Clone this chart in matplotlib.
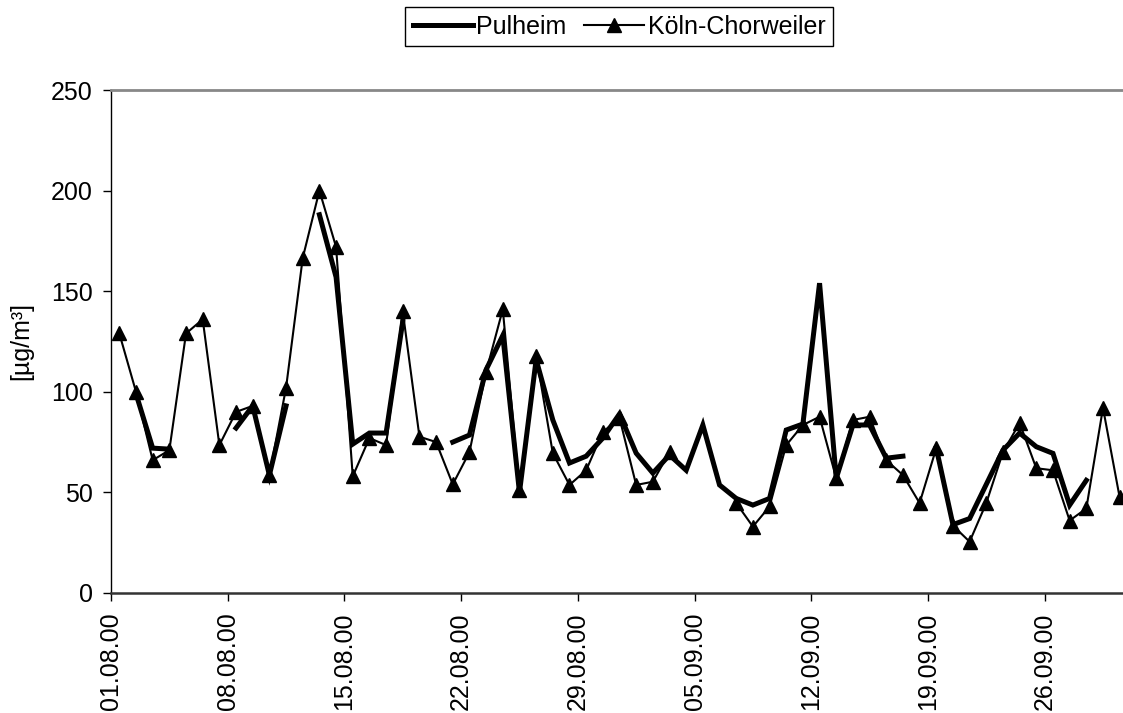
"""
Tagesmittelwerte Pulheim / Köln-Chorweiler, August und September 2000.
"""

import numpy as np
import pandas as pd
import matplotlib
matplotlib.use('Agg')
import matplotlib.pyplot as plt
import matplotlib.dates as mdates

nan = np.nan

# Tageswerte ab 01.08.2000 (61 Tage), Lücken = fehlende Messung
pulheim = [
    nan, 99, 72, 71.5, nan, nan, nan, 82, 93, 58.6,
    93, nan, 188, 157, 74, 79.5, 79.5, 135, nan, nan,
    75, 78.5, 111, 128, 50, 116, 86, 64.6, 68, 77,
    89, 69.5, 59.6, 68.6, 61, 83.5, 53.7, 47, 43.7, 47,
    81, 84, 154, 57, 83.5, 83.5, 67, 68, nan, 72,
    34, 37, 54, 71, 79.5, 72.7, 69.4, 43.7, 56, nan,
    nan,
]
koeln = [
    129, 100, 66, 71, 129, 136, 73.5, 90, 93, 58.6,
    102, 166.5, 200, 172, 58, 77, 73.5, 140, 77.7, 75,
    54, 70, 110, 141, 51, 118, 69.5, 53.7, 61, 80,
    87, 53.7, 55.3, 70, nan, nan, nan, 44.7, 33, 43,
    73.5, 83.5, 87.6, 57, 86, 87.6, 66, 58.6, 44.7, 72,
    33.5, 25.5, 44.7, 70, 84.5, 62, 61, 36, 42, 92,
    47.5,
]
reihen = ['Pulheim', 'Köln-Chorweiler']
y_ticks = [0, 50, 100, 150, 200, 250]

# Excel setzt die Punkte in die Tagesmitte
tage = pd.date_range('2000-08-01 12:00', periods=len(koeln), freq='D')
x_ticks = pd.date_range('2000-08-01', periods=9, freq='7D')


def main():
    plt.rcParams['font.family'] = ['Liberation Sans', 'DejaVu Sans']
    plt.rcParams['font.size'] = 18

    fig = plt.figure(figsize=(11.23, 7.13), dpi=100)
    ax = fig.add_axes([111 / 1123, 120 / 713, 1017 / 1123, 503 / 713])

    ax.plot(tage, pulheim, color='black', lw=3.6, label=reihen[0],
            solid_joinstyle='miter')
    ax.plot(tage, koeln, color='black', lw=1.5, marker='^', ms=10,
            label=reihen[1])

    ax.set_xlim(pd.Timestamp('2000-08-01'), pd.Timestamp('2000-10-01'))
    ax.set_ylim(0, 250)
    ax.set_yticks(y_ticks)
    ax.set_xticks(x_ticks)
    ax.xaxis.set_major_formatter(mdates.DateFormatter('%d.%m.%y'))
    plt.setp(ax.get_xticklabels(), rotation=90)
    ax.tick_params(direction='out', length=6, width=1, color='black')
    ax.tick_params(axis='x', pad=8)
    ax.tick_params(axis='y', pad=7)

    ax.set_ylabel('[µg/m³]')
    ax.yaxis.set_label_coords(-78 / 1017, 0.5)

    # Rahmen wie im Excel-Diagramm
    ax.spines['top'].set_color('#888888')
    ax.spines['top'].set_linewidth(2)
    ax.spines['right'].set_color('#888888')
    ax.spines['bottom'].set_linewidth(1.8)
    ax.spines['bottom'].set_color('#333333')
    ax.spines['left'].set_linewidth(1)

    leg = fig.legend(loc='center', bbox_to_anchor=(619 / 1123, 1 - 26.5 / 713),
                     ncol=2, handlelength=2.4, handletextpad=0.15,
                     columnspacing=0.7, borderpad=0.3, fancybox=False,
                     edgecolor='black', framealpha=1)
    leg.get_frame().set_linewidth(1)

    fig.savefig('out.png', dpi=100)


if __name__ == "__main__":
    main()
